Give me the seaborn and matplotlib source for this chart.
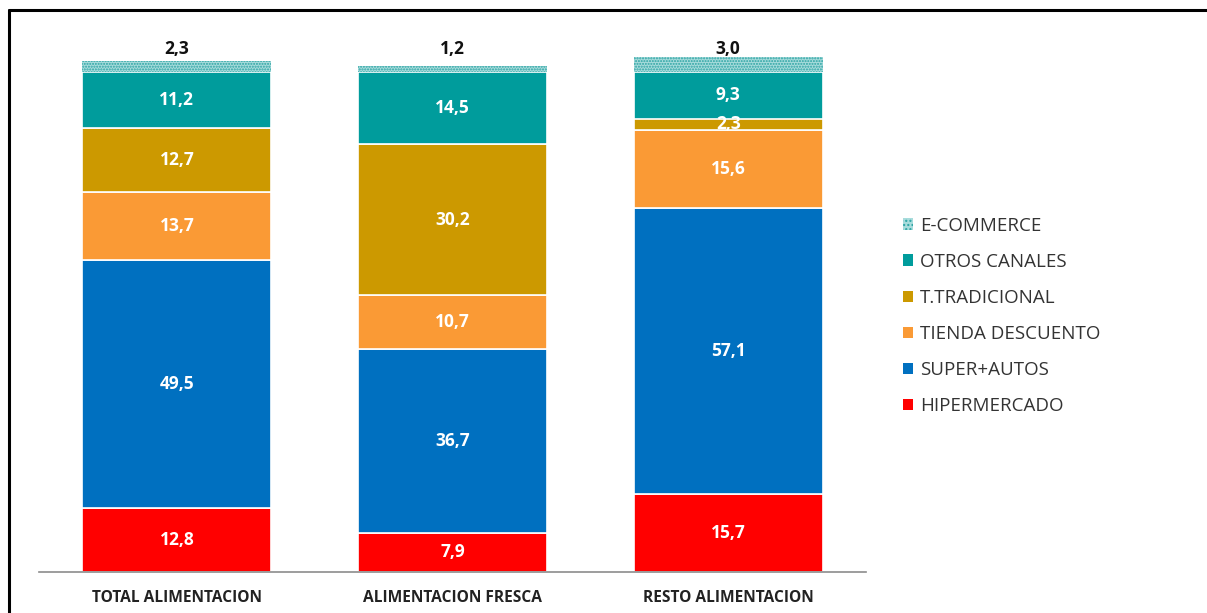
import matplotlib
matplotlib.use("Agg")
import matplotlib.pyplot as plt
import seaborn as sns
import pandas as pd
import numpy as np
from matplotlib.lines import Line2D
from matplotlib.patches import Patch

categories = ["TOTAL ALIMENTACION", "ALIMENTACION FRESCA", "RESTO ALIMENTACION"]
series = ["HIPERMERCADO", "SUPER+AUTOS", "TIENDA DESCUENTO", "T.TRADICIONAL", "OTROS CANALES", "E-COMMERCE"]
hipermercado = [12.8, 7.9, 15.7]
super_autos = [49.5, 36.7, 57.1]
tienda_descuento = [13.7, 10.7, 15.6]
t_tradicional = [12.7, 30.2, 2.3]
otros_canales = [11.2, 14.5, 9.3]
e_commerce = [2.3, 1.2, 3.0]

values = [hipermercado, super_autos, tienda_descuento, t_tradicional, otros_canales, e_commerce]
colors = ["#FF0000", "#0070C0", "#FA9A35", "#CC9900", "#009C9C", "#A8DCDC"]

sns.set_theme(style="white")
plt.rcParams['font.family'] = ['Open Sans', 'DejaVu Sans']

fig = plt.figure(figsize=(12.07, 6.13), dpi=100)
ax = fig.add_axes([39/1207, 1-572/613, (866-39)/1207, 525/613])

bottom = np.zeros(len(categories))
for name, vals, col in zip(series, values, colors):
    df = pd.DataFrame({"cat": categories, "val": vals})
    if name == "E-COMMERCE":
        sns.barplot(data=df, x="cat", y="val", bottom=bottom, color=col, width=0.685,
                    saturation=1, ax=ax, edgecolor="#2AA3A3", linewidth=0, hatch="......")
    else:
        sns.barplot(data=df, x="cat", y="val", bottom=bottom, color=col, width=0.685,
                    saturation=1, ax=ax, edgecolor="white", linewidth=1.2)
    for i, v in enumerate(vals):
        if name == "E-COMMERCE":
            ax.text(i, 104.6, f"{v:.1f}".replace(".", ","), ha="center", va="center",
                    fontsize=12.5, fontweight="bold", color="#111111")
        else:
            ax.text(i, bottom[i] + v/2, f"{v:.1f}".replace(".", ","), ha="center", va="center",
                    fontsize=12.5, fontweight="bold", color="white")
    bottom = bottom + np.array(vals)

ax.set_xlim(-0.5, 2.5)
ax.set_ylim(0, 105)
ax.set_xlabel("")
ax.set_ylabel("")
ax.set_yticks([])
for s in ["top", "right", "left"]:
    ax.spines[s].set_visible(False)
ax.spines["bottom"].set_color("#8C8C8C")
ax.spines["bottom"].set_linewidth(1.2)
ax.tick_params(axis="x", length=0, pad=13)
for lbl in ax.get_xticklabels():
    lbl.set_fontweight("bold")
    lbl.set_fontsize(11.2)
    lbl.set_color("#222222")

handles = []
for name, col in zip(series, colors):
    if name == "E-COMMERCE":
        handles.append(Patch(facecolor=col, edgecolor="#2AA3A3", linewidth=0, hatch="....", label=name))
    else:
        handles.append(Patch(facecolor=col, edgecolor="none", label=name))
handles = handles[::-1]
leg = fig.legend(handles=handles, loc="center left", bbox_to_anchor=(903/1207, 1-316/613),
                 frameon=False, fontsize=13.5, handlelength=0.55, handleheight=0.55,
                 handletextpad=0.35, labelspacing=0.97, borderpad=0, borderaxespad=0)
for t in leg.get_texts():
    t.set_color("#333333")

fig.add_artist(Line2D([9/1207, 9/1207], [0, 1-10/613], transform=fig.transFigure, color="black", lw=2.2))
fig.add_artist(Line2D([9/1207, 1], [1-10/613, 1-10/613], transform=fig.transFigure, color="black", lw=2.2))

fig.savefig("out.png", dpi=100)
